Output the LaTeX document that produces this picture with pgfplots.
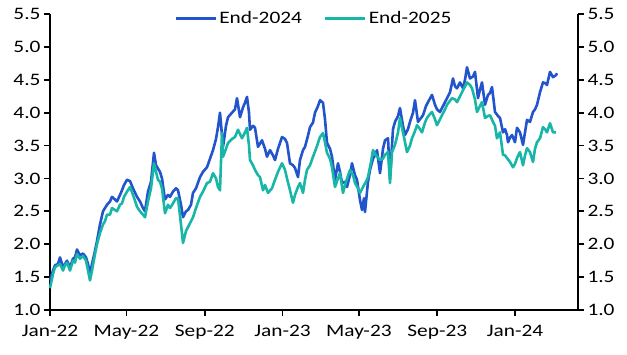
\documentclass[border=0pt]{standalone}
\usepackage{pgfplots}
\pgfplotsset{compat=1.18}
\usepackage{fontspec}
\setmainfont{Carlito}[FakeStretch=1.22]
\definecolor{cblue}{RGB}{34,84,204}
\definecolor{cteal}{RGB}{24,182,166}
\begin{document}
\begin{tikzpicture}
\pgfplotsset{
  base/.style={
    scale only axis, width=528pt, height=296pt,
    xmin=50, xmax=578, ymin=1, ymax=5.5,
    ytick={1,1.5,...,5.5},
    tick align=outside, major tick length=6pt,
    major tick style={black, line width=1.7pt},
    axis line style={black, line width=1.9pt},
    /pgf/number format/assume math mode=true,
    yticklabel={\pgfmathprintnumber[fixed,fixed zerofill,precision=1]{\tick}},
    ticklabel style={font=\fontsize{17.5}{20}\selectfont},
    clip=false,
  }
}
\begin{axis}[base,
  axis x line*=bottom, axis y line*=left,
  xtick={50,126.4,204.8,282.5,358.9,437.3,515},
  xticklabels={Jan-22,May-22,Sep-22,Jan-23,May-23,Sep-23,Jan-24},
  xticklabel style={yshift=-6pt},
  legend style={at={(0.5,0.986)}, anchor=center, draw=none, fill=none,
    font=\fontsize{17.5}{20}\selectfont, legend columns=2,
    /tikz/every even column/.append style={column sep=20pt}},
  legend image code/.code={\draw[#1, line width=2.8pt] (0pt,0pt) -- (40pt,0pt);},
  every axis plot/.append style={line width=2.6pt, line join=round},
]
\coordinate (SW) at (rel axis cs:0,0);
\coordinate (NE) at (rel axis cs:1,1);
\addplot[cblue, mark=none] coordinates {
(50,1.45)(53,1.6)(55,1.68)(58,1.7)(60,1.8)(63,1.65)(65,1.7)(67,1.75)(70,1.65)(73,1.78)
(75,1.8)(77,1.92)(80,1.83)(83,1.86)(86,1.8)(88,1.7)(90,1.55)(92,1.7)(95,1.9)(97,2.05)
(100,2.3)(103,2.5)(105,2.55)(107,2.6)(110,2.65)(112,2.72)(115,2.68)(117,2.65)(120,2.75)(122,2.82)
(124,2.9)(127,2.98)(130,2.96)(133,2.85)(137,2.72)(140,2.65)(143,2.55)(145,2.5)(148,2.8)(151,2.95)
(154,3.39)(156,3.2)(158,3.15)(160,3.1)(162,3.0)(165,2.68)(168,2.75)(170,2.72)(173,2.8)(176,2.85)
(178,2.82)(181,2.6)(183,2.41)(186,2.5)(188,2.52)(191,2.6)(193,2.78)(196,2.85)(200,3.02)(203,3.1)
(207,3.17)(210,3.3)(213,3.43)(216,3.6)(218,3.78)(220,4.0)(223,3.48)(226,3.8)(228,3.93)(232,4.0)
(235,4.05)(237,4.22)(240,3.93)(243,4.08)(245,4.15)(247,4.24)(249,4.0)(250,3.74)(253,3.8)(255,3.77)
(258,3.48)(262,3.58)(265,3.45)(267,3.33)(270,3.43)(273,3.35)(275,3.28)(278,3.45)(282,3.63)(285,3.6)
(287,3.54)(290,3.23)(293,3.2)(295,3.16)(298,3.02)(300,3.28)(303,3.43)(305,3.48)(308,3.65)(310,3.78)
(313,3.85)(315,4.0)(318,4.1)(320,4.19)(323,4.15)(325,3.9)(327,3.54)(330,3.45)(332,3.33)(335,2.98)
(338,3.23)(340,3.1)(342,2.93)(345,2.95)(347,2.87)(350,3.05)(352,3.23)(355,3.05)(357,2.98)(360,2.67)
(362,2.52)(364,2.7)(365,2.49)(368,2.95)(370,3.13)(373,3.3)(375,3.35)(377,3.43)(380,3.08)(383,3.45)
(385,3.58)(388,3.61)(390,3.0)(393,3.75)(395,3.86)(398,3.95)(400,4.07)(403,3.8)(405,3.66)(408,3.75)
(410,3.86)(413,4.0)(415,4.19)(418,3.86)(420,3.9)(423,3.96)(426,4.1)(428,4.16)(432,4.27)(435,4.12)
(437,4.05)(440,4.01)(443,4.1)(445,4.16)(448,4.25)(450,4.31)(453,4.52)(455,4.4)(457,4.37)(460,4.46)
(463,4.37)(465,4.5)(467,4.69)(470,4.52)(473,4.55)(475,4.62)(478,4.22)(480,4.35)(482,4.46)(485,4.12)
(488,4.27)(490,4.3)(492,4.39)(495,4.01)(498,3.95)(500,3.92)(503,3.7)(505,3.75)(507,3.66)(508,3.55)
(510,3.62)(512,3.66)(515,3.55)(517,3.77)(520,3.7)(523,3.51)(525,3.7)(527,3.89)(530,3.86)(533,4.01)
(535,4.05)(537,4.12)(540,4.31)(543,4.46)(545,4.45)(547,4.42)(550,4.62)(553,4.54)(556,4.57)(557,4.6)
};
\addlegendentry{End-2024}
\addplot[cteal, mark=none] coordinates {
(50,1.33)(53,1.55)(55,1.65)(58,1.68)(60,1.7)(63,1.6)(65,1.68)(67,1.72)(70,1.6)(73,1.75)
(75,1.72)(77,1.85)(80,1.78)(83,1.82)(86,1.75)(88,1.6)(90,1.45)(92,1.6)(95,1.85)(97,2.0)
(100,2.17)(103,2.3)(105,2.35)(107,2.45)(110,2.45)(112,2.55)(115,2.52)(117,2.5)(120,2.6)(122,2.62)
(124,2.72)(127,2.8)(130,2.87)(133,2.75)(137,2.57)(140,2.5)(143,2.45)(145,2.41)(148,2.65)(151,2.85)
(154,3.23)(156,3.1)(158,2.98)(160,2.95)(162,2.85)(165,2.47)(168,2.6)(170,2.55)(173,2.62)(176,2.7)
(178,2.7)(181,2.3)(183,2.02)(186,2.2)(188,2.26)(191,2.35)(193,2.41)(196,2.55)(200,2.72)(203,2.8)
(207,2.93)(210,2.95)(213,3.08)(216,3.0)(218,2.87)(220,2.82)(222,3.69)(223,3.33)(226,3.45)(228,3.54)
(232,3.6)(235,3.63)(238,3.74)(242,3.61)(245,3.7)(247,3.77)(249,3.5)(250,3.28)(253,3.2)(255,3.13)
(258,3.05)(260,3.02)(263,2.82)(265,2.9)(268,2.78)(272,2.85)(275,2.98)(278,3.1)(282,3.23)(285,3.13)
(287,3.0)(290,2.82)(293,2.63)(295,2.75)(298,2.87)(300,2.93)(303,2.78)(305,2.98)(307,3.13)(310,3.2)
(313,3.33)(316,3.45)(320,3.63)(323,3.69)(325,3.55)(327,3.39)(330,3.3)(332,3.17)(335,2.87)(338,3.0)
(340,3.08)(343,2.78)(346,2.95)(350,3.13)(353,3.05)(355,2.93)(358,2.85)(360,2.78)(363,2.87)(366,2.95)
(368,3.02)(371,3.25)(373,3.43)(376,3.35)(380,3.28)(383,3.3)(385,3.36)(388,3.4)(390,2.93)(392,3.4)
(395,3.51)(398,3.7)(400,3.92)(403,3.7)(405,3.55)(407,3.4)(410,3.5)(412,3.61)(415,3.72)(417,3.81)
(420,3.75)(422,3.7)(425,3.85)(427,3.92)(430,3.98)(432,4.01)(435,3.9)(437,3.81)(440,3.9)(442,3.96)
(445,4.05)(447,4.12)(450,4.18)(452,4.22)(455,4.2)(457,4.16)(460,4.25)(462,4.31)(465,4.4)(467,4.46)
(470,4.42)(472,4.37)(475,4.2)(477,4.01)(480,4.1)(482,4.16)(485,3.92)(488,3.95)(490,3.96)(493,3.86)
(495,3.8)(497,3.61)(500,3.7)(503,3.36)(505,3.35)(507,3.31)(510,3.25)(513,3.17)(515,3.22)(517,3.31)
(520,3.4)(523,3.2)(525,3.35)(527,3.46)(530,3.4)(533,3.25)(535,3.45)(537,3.55)(540,3.61)(543,3.78)
(545,3.75)(547,3.7)(550,3.84)(553,3.7)(556,3.7)
};
\addlegendentry{End-2025}
\end{axis}
\begin{axis}[base,
  axis x line=none, axis y line*=right,
]
\end{axis}
\pgfresetboundingbox
\path ([shift={(-50pt,-45pt)}]SW) rectangle ([shift={(49pt,14pt)}]NE);
\end{tikzpicture}
\end{document}
